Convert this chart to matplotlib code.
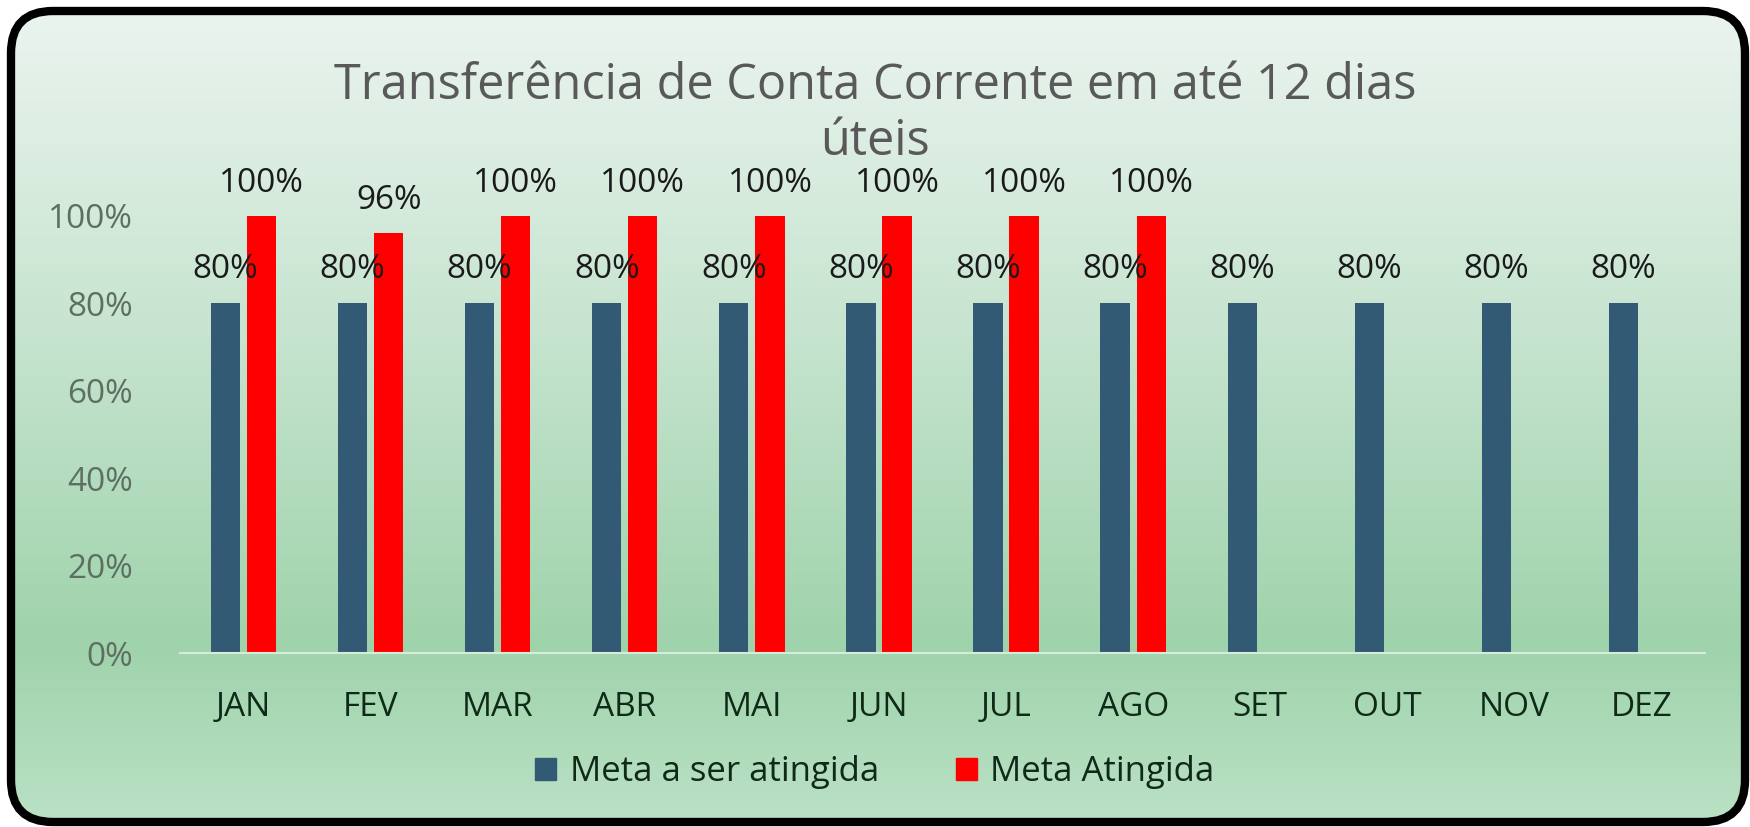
import numpy as np
import matplotlib.pyplot as plt
from matplotlib.patches import FancyBboxPatch, Patch
from matplotlib.colors import LinearSegmentedColormap

plt.rcParams['font.family'] = ['Open Sans', 'DejaVu Sans']

meses = ["JAN", "FEV", "MAR", "ABR", "MAI", "JUN", "JUL", "AGO", "SET", "OUT", "NOV", "DEZ"]
meta = [0.80] * 12
atingida = [1.00, 0.96, 1.00, 1.00, 1.00, 1.00, 1.00, 1.00]
yticks = [0, 0.2, 0.4, 0.6, 0.8, 1.0]

azul = "#335a74"
vermelho = "#ff0000"

W, H = 1750, 827
fig = plt.figure(figsize=(W / 100, H / 100), dpi=100)

# fundo com moldura arredondada e degrade
bg = fig.add_axes([0, 0, 1, 1])
bg.set_xlim(0, W)
bg.set_ylim(0, H)
bg.axis("off")
moldura = FancyBboxPatch((11, 5), 1734, 811, boxstyle="round,pad=0,rounding_size=42",
                         facecolor="none", edgecolor="black", linewidth=6, zorder=3)
bg.add_patch(moldura)
cmap = LinearSegmentedColormap.from_list("g", [(0, "#bae1c5"), (0.22, "#9fd3ab"),
                                               (0.6, "#c6e4cf"), (1, "#ebf4ef")])
grad = np.linspace(0, 1, 256).reshape(-1, 1)
img = bg.imshow(grad, extent=[11, 1745, 5, 816], origin="lower", cmap=cmap, aspect="auto", zorder=1)
clip = FancyBboxPatch((11, 5), 1734, 811, boxstyle="round,pad=0,rounding_size=42",
                      facecolor="none", edgecolor="none", transform=bg.transData)
img.set_clip_path(clip)

ax = fig.add_axes([180 / W, 174 / H, 1525 / W, 437 / H])
ax.patch.set_alpha(0)
x = np.arange(len(meses))
b1 = ax.bar(x - 0.142, meta, width=0.23, color=azul, zorder=2)
b2 = ax.bar(x[:len(atingida)] + 0.142, atingida, width=0.23, color=vermelho, zorder=2)

for r, v in zip(b1, meta):
    ax.text(r.get_x() + r.get_width() / 2, v + 0.078, f"{v:.0%}", ha="center", va="center",
            fontsize=24, color="#1a1a1a", clip_on=False, zorder=3)
for r, v in zip(b2, atingida):
    ax.text(r.get_x() + r.get_width() / 2, v + 0.075, f"{v:.0%}", ha="center", va="center",
            fontsize=24, color="#1a1a1a", clip_on=False, zorder=3)

ax.set_xlim(-0.5, len(meses) - 0.5)
ax.set_ylim(0, 1.0)
ax.set_yticks(yticks)
ax.set_yticklabels([f"{t:.0%}" for t in yticks])
ax.set_xticks(x)
ax.set_xticklabels(meses)
ax.tick_params(axis="y", length=0, pad=34, labelsize=24, labelcolor="#5d6e62")
ax.tick_params(axis="x", length=0, pad=27, labelsize=24, labelcolor="#102a18")
for s in ["top", "right", "left"]:
    ax.spines[s].set_visible(False)
ax.spines["bottom"].set_color("#d6ebdc")
ax.spines["bottom"].set_linewidth(1.5)

fig.text(0.5, 1 - 86 / H, "Transferência de Conta Corrente em até 12 dias", ha="center", va="center",
         fontsize=35, color="#595959")
fig.text(0.5, 1 - 142 / H, "úteis", ha="center", va="center", fontsize=35, color="#595959")

handles = [Patch(color=azul), Patch(color=vermelho)]
fig.legend(handles, ["Meta a ser atingida", "Meta Atingida"], loc="center",
           bbox_to_anchor=(0.5, 55 / H), ncol=2, frameon=False, fontsize=25,
           handlelength=0.6, handleheight=0.6, handletextpad=0.4, columnspacing=2.2,
           labelcolor="#102a18")

fig.savefig("out.png", dpi=100)
